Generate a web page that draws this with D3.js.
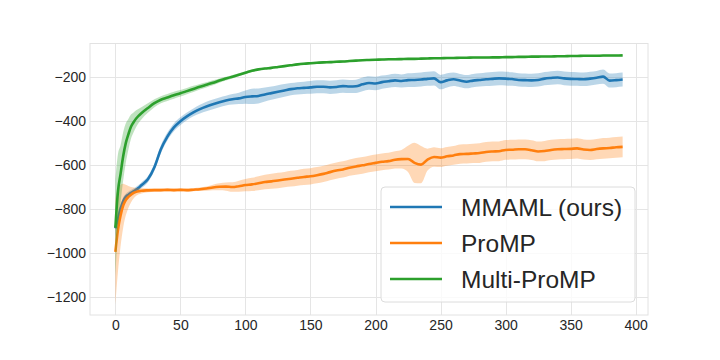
<!DOCTYPE html>
<html>
<head>
<meta charset="utf-8">
<script src="https://d3js.org/d3.v7.min.js"></script>
<style>
    body { margin: 0; background: #fff; }
    text { font-family: "Liberation Sans", Arial, sans-serif; fill: #262626; }
    .grid line { stroke: #e5e5e5; stroke-width: 1; shape-rendering: crispEdges; }
</style>
</head>
<body>
<svg width="720" height="360"></svg>
<script>
/* training iterations where the curves were read */
var steps = [0,2,4,6,8,10,12,14,16,18,
    20,25,30,35,40,45,50,55,60,65,
    70,75,80,85,90,95,100,105,110,115,
    120,125,130,135,140,145,150,155,160,165,
    170,175,180,185,190,195,200,205,210,215,
    220,225,230,235,240,245,250,255,260,265,
    270,275,280,285,290,295,300,305,310,315,
    320,325,330,335,340,345,350,355,360,365,
    370,375,380,385,390];

/* MMAML (ours): mean and half band */
var mmamlMean = [-888,-845,-800,-765,-745,-735,-727,-720,-712,-703,
    -692,-665,-610,-528,-470,-428,-400,-378,-360,-345,
    -333,-323,-314,-306,-300,-296,-290,-287,-285,-278,
    -272,-266,-260,-254,-250,-248,-246,-243,-243,-246,
    -244,-240,-242,-241,-232,-226,-228,-222,-218,-214,
    -217,-213,-212,-210,-207,-205,-222,-214,-209,-215,
    -220,-215,-212,-209,-207,-205,-206,-208,-212,-213,
    -214,-212,-206,-203,-201,-205,-207,-208,-209,-206,
    -202,-197,-215,-213,-210];
var mmamlBand = [40,30,22,18,15,14,13,13,13,13,
    13,14,16,18,18,18,18,18,18,20,
    22,22,22,22,24,26,30,35,34,32,
    30,30,29,28,28,28,29,30,30,30,
    30,30,30,30,31,31,31,30,30,30,
    30,31,32,32,32,32,33,32,31,30,
    30,30,30,31,31,31,31,31,30,30,
    30,30,30,31,31,31,31,31,31,31,
    31,32,32,32,32];

/* ProMP */
var prompMean = [-995,-895,-830,-785,-760,-745,-735,-727,-722,-719,
    -717,-715,-714,-714,-713,-714,-713,-714,-712,-710,
    -707,-702,-699,-698,-700,-696,-691,-688,-683,-677,
    -674,-670,-666,-662,-658,-654,-651,-646,-640,-632,
    -625,-620,-612,-606,-601,-595,-590,-585,-582,-576,
    -573,-572,-590,-598,-575,-563,-566,-560,-556,-550,
    -549,-547,-545,-540,-538,-537,-531,-530,-528,-528,
    -532,-538,-536,-531,-528,-527,-526,-524,-529,-531,
    -527,-524,-522,-519,-517];
var prompBand = [240,190,140,100,70,50,35,25,18,14,
    12,9,7,7,7,7,7,7,7,8,
    10,13,16,19,22,25,28,30,32,33,
    34,35,35,36,36,37,37,37,37,37,
    37,37,37,38,38,38,38,38,38,39,
    42,60,92,85,50,44,43,43,43,44,
    44,44,45,45,45,45,45,45,45,45,
    45,45,46,46,46,46,46,46,46,46,
    46,47,47,47,47];

/* Multi-ProMP */
var multiMean = [-885,-720,-640,-560,-500,-460,-425,-405,-388,-375,
    -364,-340,-318,-302,-292,-282,-273,-263,-253,-243,
    -234,-225,-215,-206,-197,-188,-179,-170,-164,-160,
    -157,-153,-149,-145,-141,-138,-136,-134,-132,-131,
    -129,-128,-126,-124,-122,-121,-120,-119,-118,-118,
    -117,-116,-116,-115,-114,-113,-113,-112,-112,-111,
    -111,-110,-110,-110,-109,-109,-108,-108,-107,-107,
    -106,-106,-105,-105,-104,-104,-103,-103,-102,-102,
    -102,-101,-101,-101,-100];
var multiBand = [220,170,130,110,90,70,55,45,38,32,
    28,22,18,16,16,16,15,14,14,13,
    12,11,10,9,8,7,6,6,5,5,
    5,5,5,5,5,5,5,5,5,5,
    5,5,4,4,4,4,4,4,4,4,
    4,4,4,4,4,4,4,4,4,4,
    4,4,4,4,4,4,4,4,4,4,
    4,4,4,4,4,4,4,4,4,4,
    4,4,4,4,4];

var seriesNames = ["MMAML (ours)", "ProMP", "Multi-ProMP"];
var seriesColors = ["#1f77b4", "#ff7f0e", "#2ca02c"];
var xTicks = [0,50,100,150,200,250,300,350,400];
var yTicks = [-200,-400,-600,-800,-1000,-1200];

var svg = d3.select("svg"),
    plotL = 90, plotR = 648, plotT = 43.5, plotB = 315;

var x = d3.scaleLinear().domain([-19.5, 409.5]).range([plotL, plotR]);
var y = d3.scaleLinear().domain([-1283, -46]).range([plotB, plotT]);

/*grid lines + tick labels*/
var gx = svg.append("g").attr("class", "grid")
    .attr("transform", "translate(0," + plotB + ")")
    .call(d3.axisBottom(x).tickValues(xTicks)
        .tickSizeInner(-(plotB - plotT)).tickSizeOuter(0).tickPadding(5)
        .tickFormat(function(d) { return d; }));
gx.select(".domain").remove();
gx.selectAll("text").attr("font-size", "14px").attr("fill", "#262626");

var gy = svg.append("g").attr("class", "grid")
    .attr("transform", "translate(" + plotL + ",0)")
    .call(d3.axisLeft(y).tickValues(yTicks)
        .tickSizeInner(-(plotR - plotL)).tickSizeOuter(0).tickPadding(4)
        .tickFormat(function(d) { return d < 0 ? "\u2212" + Math.abs(d) : d; }));
gy.select(".domain").remove();
gy.selectAll("text").attr("font-size", "14px").attr("fill", "#262626");

svg.append("rect")
    .attr("x", plotL).attr("y", plotT)
    .attr("width", plotR - plotL).attr("height", plotB - plotT)
    .attr("fill", "none").attr("stroke", "#e2e2e2").attr("stroke-width", 1);

var series = [
    {mean: mmamlMean, band: mmamlBand},
    {mean: prompMean, band: prompBand},
    {mean: multiMean, band: multiBand}
];

var area = d3.area()
    .x(function(d, i) { return x(steps[i]); })
    .y0(function(d) { return y(d[0] - d[1]); })
    .y1(function(d) { return y(d[0] + d[1]); })
    .curve(d3.curveMonotoneX);

var line = d3.line()
    .x(function(d, i) { return x(steps[i]); })
    .y(function(d) { return y(d); })
    .curve(d3.curveMonotoneX);

var plot = svg.append("g");

series.forEach(function(s, k) {
    var pairs = s.mean.map(function(m, i) { return [m, s.band[i]]; });
    plot.append("path")
        .attr("d", area(pairs))
        .attr("fill", seriesColors[k])
        .attr("fill-opacity", 0.3);
    plot.append("path")
        .attr("d", line(s.mean))
        .attr("fill", "none")
        .attr("stroke", seriesColors[k])
        .attr("stroke-width", 2.6);
});

/*legend box*/
var lg = svg.append("g");
lg.append("rect")
    .attr("x", 381).attr("y", 187)
    .attr("width", 254).attr("height", 115)
    .attr("rx", 4)
    .attr("fill", "#fff").attr("fill-opacity", 0.8)
    .attr("stroke", "#dcdcdc").attr("stroke-width", 1);

seriesNames.forEach(function(name, k) {
    var base = 216 + k * 36;
    lg.append("line")
        .attr("x1", 390).attr("x2", 442)
        .attr("y1", base - 9).attr("y2", base - 9)
        .attr("stroke", seriesColors[k])
        .attr("stroke-width", 2.6);
    lg.append("text")
        .attr("x", 461).attr("y", base)
        .attr("font-size", "24.5px")
        .text(name);
});
</script>
</body>
</html>
